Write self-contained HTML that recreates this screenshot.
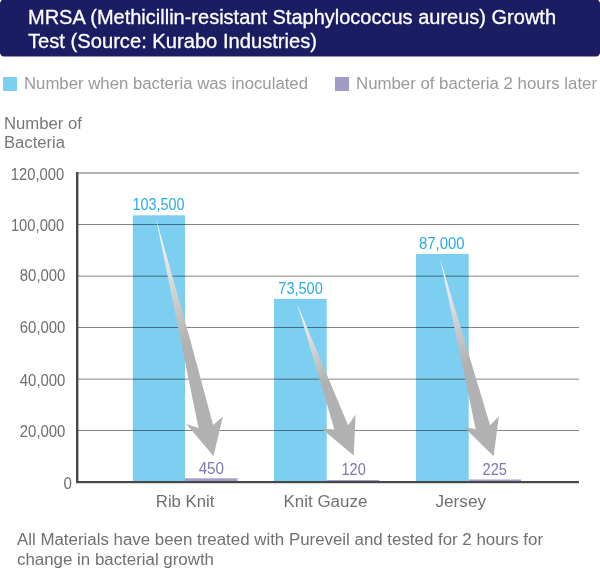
<!DOCTYPE html>
<html lang="en">
<head>
<meta charset="utf-8">
<title>MRSA Growth Test</title>
<style>
html,body{margin:0;padding:0;background:#fff;}
body{width:600px;height:576px;overflow:hidden;font-family:"Liberation Sans",sans-serif;}
svg{display:block;}
svg text{font-family:"Liberation Sans",sans-serif;}
.ttl{font-size:20px;fill:#fff;stroke:#fff;stroke-width:0.3px;}
.leg{font-size:16px;fill:#999;}
.ax{font-size:16px;fill:#777;}
.tick{font-size:16px;fill:#6e6e6e;text-anchor:end;}
.cat{font-size:16px;fill:#707070;}
.foot{font-size:16px;fill:#707070;}
.vb{font-size:16px;fill:#29abe2;}
.vp{font-size:16px;fill:#7a77ad;}
</style>
</head>
<body>
<svg width="600" height="576" viewBox="0 0 600 576">
  <defs>
    <linearGradient id="ag1" gradientUnits="userSpaceOnUse" x1="156" y1="220" x2="186" y2="345">
      <stop offset="0" stop-color="#ffffff"/><stop offset="1" stop-color="#b1b1b1"/>
    </linearGradient>
    <linearGradient id="ag2" gradientUnits="userSpaceOnUse" x1="297" y1="304" x2="325" y2="383">
      <stop offset="0" stop-color="#ffffff"/><stop offset="1" stop-color="#b1b1b1"/>
    </linearGradient>
    <linearGradient id="ag3" gradientUnits="userSpaceOnUse" x1="440" y1="259" x2="466" y2="364">
      <stop offset="0" stop-color="#ffffff"/><stop offset="1" stop-color="#b1b1b1"/>
    </linearGradient>
  </defs>

  <!-- header -->
  <rect x="0" y="-0.6" width="600" height="57.2" rx="4.2" ry="4.2" fill="#1a1d62"/>
  <text class="ttl" x="28" y="23.5" textLength="528" lengthAdjust="spacingAndGlyphs">MRSA (Methicillin-resistant Staphylococcus aureus) Growth</text>
  <text class="ttl" x="28" y="47.7" textLength="289" lengthAdjust="spacingAndGlyphs">Test (Source: Kurabo Industries)</text>

  <!-- legend -->
  <rect x="3" y="77" width="14" height="14" fill="#7ccff0"/>
  <text class="leg" x="24" y="89.3" textLength="284" lengthAdjust="spacingAndGlyphs">Number when bacteria was inoculated</text>
  <rect x="335" y="77" width="14" height="14" fill="#9f9dc6"/>
  <text class="leg" x="356" y="89.3" textLength="241" lengthAdjust="spacingAndGlyphs">Number of bacteria 2 hours later</text>

  <!-- axis title -->
  <text class="ax" x="4" y="128.8" textLength="78" lengthAdjust="spacingAndGlyphs">Number of</text>
  <text class="ax" x="4" y="148.4" textLength="61" lengthAdjust="spacingAndGlyphs">Bacteria</text>

  <!-- bars -->
  <rect x="132.8" y="215.3" width="52.2" height="267" fill="#7ccff0"/>
  <rect x="274" y="298.9" width="52.7" height="184" fill="#7ccff0"/>
  <rect x="416" y="254" width="52.7" height="228" fill="#7ccff0"/>
  <rect x="185" y="478.3" width="52.6" height="3.7" fill="#a09fc8"/>
  <rect x="326.5" y="480" width="52.7" height="2" fill="#a09fc8"/>
  <rect x="468.7" y="479.5" width="52.3" height="2.5" fill="#a09fc8"/>

  <!-- grid -->
  <rect x="77" y="172" width="502" height="2" fill="#b4b4b4"/>
  <g fill="#000" fill-opacity="0.48">
    <rect x="78" y="224" width="501" height="1"/>
    <rect x="78" y="275.63" width="501" height="1"/>
    <rect x="78" y="327" width="501" height="1"/>
    <rect x="78" y="378.63" width="501" height="1"/>
    <rect x="78" y="430" width="501" height="1"/>
  </g>
  <rect x="76" y="172" width="2.4" height="311" fill="#484848"/>
  <rect x="76" y="481" width="503" height="2.2" fill="#484848"/>

  <!-- arrows -->
  <path fill="url(#ag1)" d="M156.2 219.5 L198.5 428.1 L186.2 424 L213.5 456 L222.9 416.6 L213.1 425 Q186 322 156.2 219.5 Z"/>
  <path fill="url(#ag2)" d="M297.2 304 L334.4 429.6 L321.4 428.4 L353.7 455.5 L355.6 414.6 L348.1 425.2 Z"/>
  <path fill="url(#ag3)" d="M440.2 259.3 L475.7 429.2 L463.9 426.9 L493.6 456.2 L498.9 416.2 L490.1 425.2 Z"/>

  <!-- value labels -->
  <text class="vb" x="132.6" y="209.7" textLength="52" lengthAdjust="spacingAndGlyphs">103,500</text>
  <text class="vb" x="278.3" y="293.5" textLength="44.5" lengthAdjust="spacingAndGlyphs">73,500</text>
  <text class="vb" x="419" y="248.5" textLength="45.5" lengthAdjust="spacingAndGlyphs">87,000</text>
  <text class="vp" x="198.7" y="474.4" textLength="25.3" lengthAdjust="spacingAndGlyphs">450</text>
  <text class="vp" x="341.5" y="475.2" textLength="24.2" lengthAdjust="spacingAndGlyphs">120</text>
  <text class="vp" x="482.6" y="475.2" textLength="24.4" lengthAdjust="spacingAndGlyphs">225</text>

  <!-- ticks -->
  <g class="tick">
    <text x="64.2" y="180.3" textLength="53.4" lengthAdjust="spacingAndGlyphs">120,000</text>
    <text x="64.3" y="231.2" textLength="53.4" lengthAdjust="spacingAndGlyphs">100,000</text>
    <text x="65.4" y="281.4" textLength="45.6" lengthAdjust="spacingAndGlyphs">80,000</text>
    <text x="65.4" y="333.4" textLength="45.6" lengthAdjust="spacingAndGlyphs">60,000</text>
    <text x="65.4" y="385.5" textLength="45.6" lengthAdjust="spacingAndGlyphs">40,000</text>
    <text x="65.4" y="436.7" textLength="45.6" lengthAdjust="spacingAndGlyphs">20,000</text>
    <text x="72" y="489.4" textLength="8.4" lengthAdjust="spacingAndGlyphs">0</text>
  </g>

  <!-- categories -->
  <text class="cat" x="155.8" y="506.5" textLength="58.6" lengthAdjust="spacingAndGlyphs">Rib Knit</text>
  <text class="cat" x="283.5" y="506.5" textLength="83.8" lengthAdjust="spacingAndGlyphs">Knit Gauze</text>
  <text class="cat" x="435.5" y="506.5" textLength="50.5" lengthAdjust="spacingAndGlyphs">Jersey</text>

  <!-- footer -->
  <text class="foot" x="17" y="544.8" textLength="526" lengthAdjust="spacingAndGlyphs">All Materials have been treated with Pureveil and tested for 2 hours for</text>
  <text class="foot" x="17" y="565.3" textLength="197" lengthAdjust="spacingAndGlyphs">change in bacterial growth</text>
</svg>
</body>
</html>
